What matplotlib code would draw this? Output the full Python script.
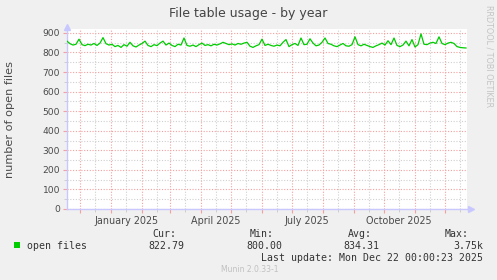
import numpy as np
import pandas as pd
import matplotlib
matplotlib.use("Agg")
import matplotlib.pyplot as plt
import matplotlib.dates as mdates
from matplotlib.patches import Rectangle

# open files, one reading every 3 days
open_files = [
    858, 845, 838, 842, 868, 840, 835, 842, 838, 846, 836, 848, 876, 845, 838, 842, 830,
    836, 826, 840, 832, 852, 834, 828, 838, 846, 858, 836, 830, 840, 835, 848, 858, 838,
    848, 836, 830, 842, 838, 874, 836, 832, 838, 830, 840, 848, 836, 840, 834, 842, 838,
    844, 852, 846, 840, 844, 838, 846, 842, 848, 852, 832, 826, 834, 840, 868, 836, 842,
    836, 832, 838, 834, 852, 866, 830, 840, 846, 836, 874, 840, 842, 870, 848, 834, 838,
    852, 874, 846, 842, 834, 830, 838, 846, 834, 832, 840, 880, 840, 834, 842, 836, 830,
    826, 834, 840, 848, 838, 860, 840, 874, 836, 830, 838, 858, 834, 866, 828, 840, 895,
    842, 840, 848, 852, 846, 880, 846, 840, 848, 852, 846, 830, 826, 824, 823,
]
dates = pd.date_range(end="2025-12-22", periods=len(open_files), freq="3D")

x_labels = ["January 2025", "April 2025", "July 2025", "October 2025"]
x_label_dates = pd.to_datetime(["2025-01-16", "2025-04-16", "2025-07-16", "2025-10-16"])

legend_name = "open files"
stats_names = ["Cur:", "Min:", "Avg:", "Max:"]
stats_values = ["822.79", "800.00", "834.31", "3.75k"]
last_update = "Last update: Mon Dec 22 00:00:23 2025"

W, H = 497, 280
fig = plt.figure(figsize=(W / 100, H / 100), dpi=100, facecolor="#F0F0F0")
ax = fig.add_axes([67 / W, 1 - 209 / H, 400 / W, (209 - 29) / H])
ax.set_facecolor("white")

ax.plot(dates, open_files, color="#00CC00", lw=0.9, zorder=3)

ax.set_xlim(pd.Timestamp("2024-11-18"), pd.Timestamp("2025-12-23"))
ax.set_ylim(0, 920)

ax.xaxis.set_major_locator(mdates.MonthLocator(bymonthday=1))
ax.xaxis.set_minor_locator(mdates.MonthLocator(bymonthday=16))
ax.set_yticks(np.arange(0, 901, 100))
ax.set_yticks(np.arange(50, 901, 100), minor=True)
ax.set_xticklabels([])

ax.grid(which="major", color="#F4A0A0", linestyle=(0, (1, 1.5)), lw=0.8)
ax.grid(which="minor", color="#D0D0D0", linestyle=(0, (1, 1.5)), lw=0.8)
ax.set_axisbelow(True)

ax.tick_params(axis="y", which="major", length=3, color="#F4A0A0", labelsize=6.6,
               labelcolor="#4A4A4A", pad=2)
ax.tick_params(axis="y", which="minor", length=2, color="#C8C8C8")
ax.tick_params(axis="x", which="major", length=3, color="#F4A0A0")
ax.tick_params(axis="x", which="minor", length=2, color="#C8C8C8")

for s in ["top", "right"]:
    ax.spines[s].set_visible(False)
for s in ["left", "bottom"]:
    ax.spines[s].set_color("#C8C8FF")
    ax.spines[s].set_linewidth(1.0)
ax.plot([0], [1.01], marker="^", ms=4, color="#C8C8FF", transform=ax.transAxes, clip_on=False)
ax.plot([1.01], [0], marker=">", ms=4, color="#C8C8FF", transform=ax.transAxes, clip_on=False)

for d, lab in zip(x_label_dates, x_labels):
    ax.text(d, -0.04, lab, transform=ax.get_xaxis_transform(), ha="center", va="top",
            fontsize=6.9, color="#4A4A4A")

def px(x, y):
    return x / W, 1 - y / H

fig.text(*px(248, 13), "File table usage - by year", ha="center", va="center",
         fontsize=9, color="#444444")
fig.text(*px(10, 119), "number of open files", ha="center", va="center", rotation=90,
         fontsize=8.1, color="#4A4A4A")
fig.text(*px(489, 5), "RRDTOOL / TOBI OETIKER", ha="center", va="top", rotation=-90,
         fontsize=5.8, color="#C4C4C4")

mono = dict(family="DejaVu Sans Mono", fontsize=7.1, color="#333333", va="center")
fig.patches.append(Rectangle(px(14, 248), 6 / W, 6 / H, transform=fig.transFigure,
                             facecolor="#00CC00", edgecolor="none"))
fig.text(*px(27, 246), legend_name, ha="left", **mono)
name_right = [176, 274, 372, 469]
value_right = [184, 282, 379, 483]
for n, v, xn, xv in zip(stats_names, stats_values, name_right, value_right):
    fig.text(*px(xn, 234), n, ha="right", **mono)
    fig.text(*px(xv, 246), v, ha="right", **mono)
fig.text(*px(483, 258), last_update, ha="right", **mono)
fig.text(*px(250, 269), "Munin 2.0.33-1", ha="center", va="center", fontsize=5.5,
         color="#C0C0C0")

fig.savefig("out.png", dpi=100, facecolor=fig.get_facecolor())
